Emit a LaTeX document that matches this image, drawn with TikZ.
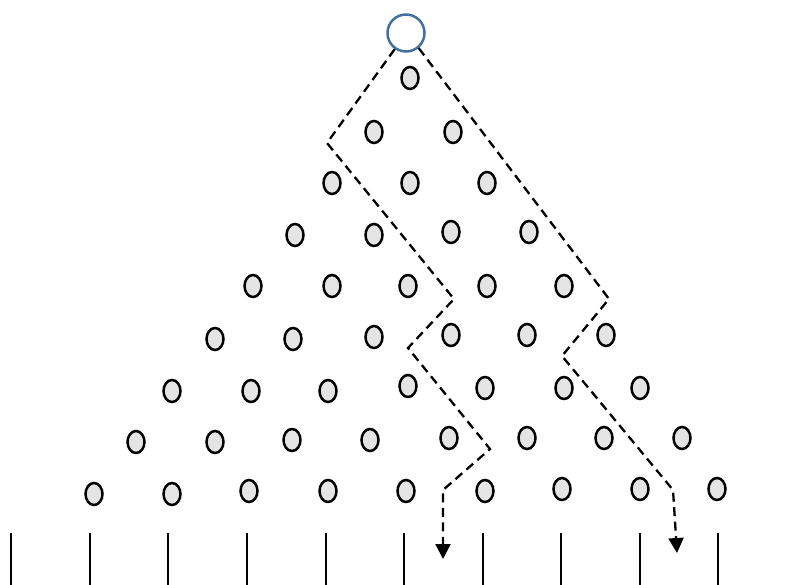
\documentclass[tikz,border=0pt]{standalone}
\usetikzlibrary{arrows.meta,shapes.geometric}
\definecolor{pegfill}{RGB}{228,228,228}
\definecolor{ballblue}{RGB}{66,112,160}
\begin{document}
\begin{tikzpicture}[x=1pt,y=-1pt,
  peg/.style={draw=black,fill=pegfill,line width=2.5pt,ellipse,minimum width=17pt,minimum height=22pt,inner sep=0pt},
  ball/.style={draw=ballblue,line width=2.5pt,circle,minimum size=37pt,inner sep=0pt},
  bin/.style={line width=1.6pt},
  pathline/.style={dashed,dash pattern=on 9pt off 5.5pt,line width=2.3pt,-{Triangle[length=15pt,width=15pt]}}]
\useasboundingbox (0,0) rectangle (789,585);
% the falling ball
\node[ball] (top) at (406,33) {};
% pegs, row by row
\foreach \x/\y [count=\i] in {410/78,
  374/132,453/132,
  332/183,410/183,487/183,
  295/235,374/235,451/232,529/232,
  253/286,332/286,408/286,487/286,564/286,
  215/339,293/339,374/337,451/335,527/335,606/335,
  172/391,251/391,328/391,408/386,485/388,564/388,640/388,
  136/442,215/442,292/440,370/440,449/438,527/438,604/438,682/438,
  94/494,172/494,249/491,328/491,406/491,485/491,562/489,640/489,717/489}
  \node[peg] (p\i) at (\x,\y) {};
% bin walls
\foreach \x [count=\i] in {11,90,168,247,326,404,483,561,640,718}
  \draw[bin] (\x,533) coordinate (b\i) -- (\x,585);
% two sample trajectories
\coordinate (a1) at (327,143);
\coordinate (a2) at (454,299);
\coordinate (a3) at (408,348);
\coordinate (a4) at (490,449);
\coordinate (a5) at (443,490);
\coordinate (a6) at (443,559);
\draw[pathline] (top.235) -- (a1) -- (a2) -- (a3) -- (a4) -- (a5) -- (a6);
\coordinate (c1) at (609,299);
\coordinate (c2) at (562,356);
\coordinate (c3) at (673,490);
\coordinate (c4) at (677,553);
\draw[pathline] (top.310) -- (c1) -- (c2) -- (c3) -- (c4);
\end{tikzpicture}
\end{document}
